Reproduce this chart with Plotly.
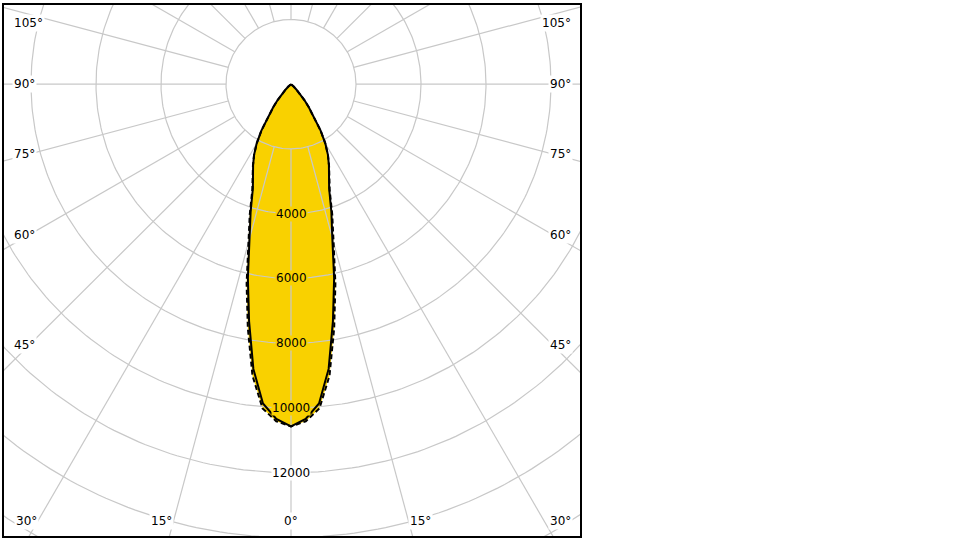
import numpy as np
import plotly.graph_objects as go

# ---------------- data ----------------
gamma = [0, 2.5, 5, 7.5, 10, 12.5, 15, 17.5, 20, 22.5, 25, 27.5, 30, 32.5, 35,
         37.5, 40, 42.5, 45, 47.5, 50, 55, 60, 90, 120, 150, 180]
c0_c180 = [10570, 10350, 9900, 8870, 7430, 6130, 4910, 4130, 3430, 3050, 2760,
           2460, 2110, 1690, 1230, 900, 640, 420, 240, 120, 50, 15, 0, 0, 0, 0, 0]
c90_c270 = [10570, 10420, 10050, 9080, 7650, 6310, 5060, 4220, 3480, 3070, 2770,
            2460, 2110, 1690, 1230, 900, 640, 420, 240, 120, 50, 15, 0, 0, 0, 0, 0]

ring_values = [2000, 4000, 6000, 8000, 10000, 12000, 14000, 16000, 18000]
ring_labels = {4000: "4000", 6000: "6000", 8000: "8000", 10000: "10000", 12000: "12000"}
spoke_step = 15
side_ticks = [45, 60, 75, 90, 105]
bottom_ticks = [0, 15, 30]

# ---------------- styling / geometry ----------------
FILL = "#F9D100"
GRID = "#c8c8c8"
FONT = dict(family="DejaVu Sans", size=12, color="black")
PX = 1000 / 32.5          # intensity units per screen pixel
CX, CY = 291, 82.5        # pole position in pixels
L, R, T, B = 4, 580, 3, 536


def to_xy(theta_deg, r):
    t = np.radians(np.asarray(theta_deg, dtype=float))
    r = np.asarray(r, dtype=float)
    return r * np.sin(t), -r * np.cos(t)


def full_curve(values):
    g = np.array(gamma, dtype=float)
    v = np.array(values, dtype=float)
    th = np.concatenate([-g[::-1], g[1:]])
    rr = np.concatenate([v[::-1], v[1:]])
    return to_xy(th, rr)


fig = go.Figure()

# filled areas
for vals in (c90_c270, c0_c180):
    x, y = full_curve(vals)
    fig.add_trace(go.Scatter(x=x, y=y, mode="lines", fill="toself", fillcolor=FILL,
                             line=dict(width=0), hoverinfo="skip", showlegend=False))

# grid circles
gx, gy = [], []
circ = np.linspace(0, 360, 361)
for rv in ring_values:
    x, y = to_xy(circ, np.full_like(circ, rv))
    gx += list(x) + [None]
    gy += list(y) + [None]
# spokes from the first ring outward
for a in range(0, 360, spoke_step):
    x, y = to_xy([a, a], [ring_values[0], ring_values[-1] * 1.3])
    gx += list(x) + [None]
    gy += list(y) + [None]
fig.add_trace(go.Scatter(x=gx, y=gy, mode="lines", line=dict(color=GRID, width=1.2),
                         hoverinfo="skip", showlegend=False))

# outlines
x, y = full_curve(c90_c270)
fig.add_trace(go.Scatter(x=x, y=y, mode="lines", line=dict(color="black", width=2, dash="5px,3px"),
                         hoverinfo="skip", showlegend=False))
x, y = full_curve(c0_c180)
fig.add_trace(go.Scatter(x=x, y=y, mode="lines", line=dict(color="black", width=2),
                         hoverinfo="skip", showlegend=False))

ann = []
# intensity labels along the 0 deg axis
for rv, txt in ring_labels.items():
    bg = FILL if rv < c0_c180[0] else "white"
    ann.append(dict(x=0, y=-rv, text=txt, showarrow=False, font=FONT, bgcolor=bg,
                    borderpad=0, xanchor="center", yanchor="middle"))

# angle labels on the sides
left_x = -(CX - 11.5) * PX
right_x = (573 - CX) * PX
top_lim = (CY - 21) * PX
for a in side_ticks:
    yv = -262 * PX / np.tan(np.radians(a))
    yv = min(yv, top_lim)
    for xv, anc in ((left_x, "left"), (right_x, "right")):
        ann.append(dict(x=xv, y=yv, text=f"{a}°", showarrow=False, font=FONT,
                        bgcolor="white", borderpad=1, xanchor=anc, yanchor="middle"))
# angle labels at the bottom
bottom_y = -(521 - CY) * PX
for a in bottom_ticks:
    off = 485 * np.tan(np.radians(a))
    for sgn in ((1,) if a == 0 else (-1, 1)):
        if off > 265:
            xv = (14 - CX) * PX if sgn < 0 else (573 - CX) * PX
            anc = "left" if sgn < 0 else "right"
        else:
            xv = sgn * off * PX
            anc = "center"
        ann.append(dict(x=xv, y=bottom_y, text=f"{a}°", showarrow=False, font=FONT,
                        bgcolor="white", borderpad=1, xanchor=anc, yanchor="middle"))

axis_common = dict(showgrid=False, zeroline=False, showticklabels=False, ticks="",
                   showline=True, mirror=True, linecolor="black", linewidth=2, fixedrange=True)
fig.update_layout(
    width=960, height=540,
    margin=dict(l=L, r=960 - R, t=T, b=540 - B),
    paper_bgcolor="white", plot_bgcolor="white",
    xaxis=dict(range=[-(CX - L) * PX, (R - CX) * PX], **axis_common),
    yaxis=dict(range=[-(B - CY) * PX, (CY - T) * PX], **axis_common),
    annotations=ann,
    showlegend=False,
)

fig.write_html("out.html", config={"displayModeBar": False},
               post_script="document.body.style.margin='0';document.body.style.overflow='hidden';")
